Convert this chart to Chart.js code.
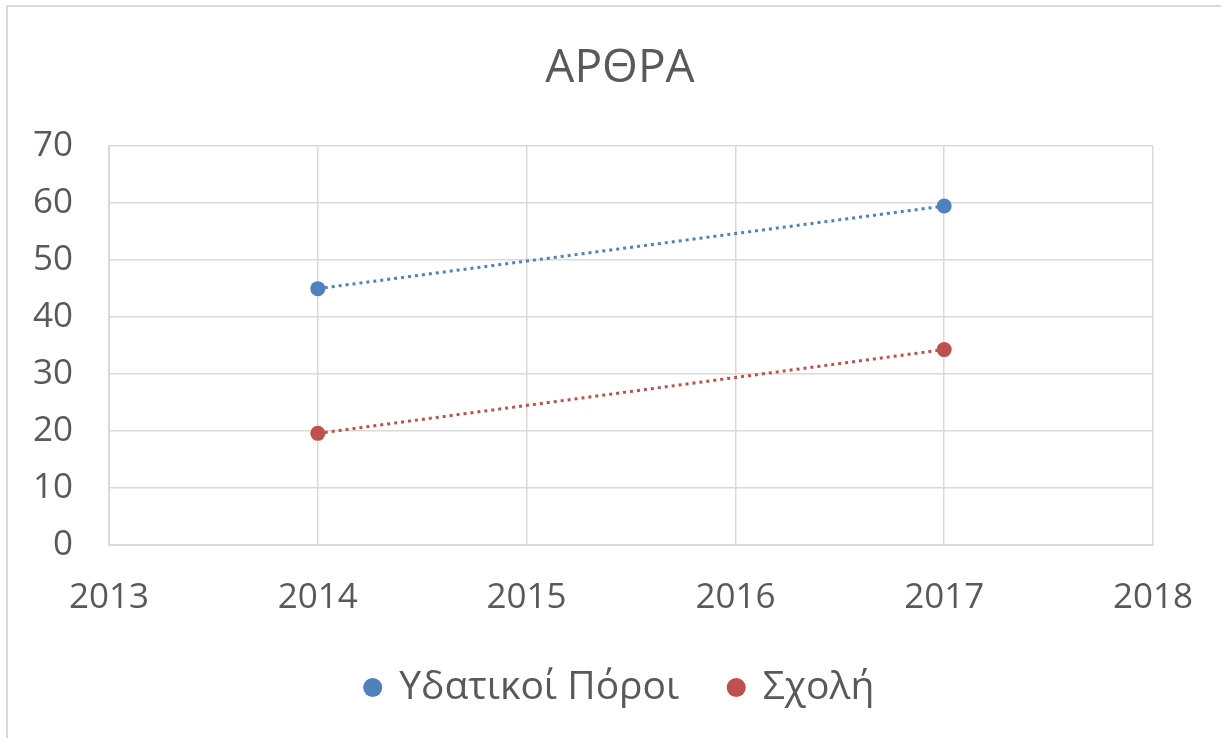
<!DOCTYPE html>
<html>
<head>
<meta charset="utf-8">
<script src="https://cdn.jsdelivr.net/npm/chart.js@4/dist/chart.umd.min.js"></script>
<style>
  body { margin: 0; background: #fff; overflow: hidden; }
  #frame { position: absolute; left: 6px; top: 5px; width: 1300px; height: 900px; border: 2px solid #d9d9d9; }
  #wrap { position: absolute; left: 0; top: 0; width: 1221px; height: 738px; }
</style>
</head>
<body>
<div id="frame"></div>
<div id="wrap"><canvas id="arthra__chart"></canvas></div>
<script>
// Scatter chart "ΑΡΘΡΑ", Excel style, dotted lines between the two years

const years = [2014, 2017];
const waterResources = [45, 59.5];   // Υδατικοί Πόροι
const school = [19.6, 34.3];         // Σχολή
const xTicks = [2013, 2014, 2015, 2016, 2017, 2018];
const yTicks = [0, 10, 20, 30, 40, 50, 60, 70];

const textColor = '#595959';
const gridColor = '#d9d9d9';
const fontFamily = '"Open Sans", "Noto Sans", sans-serif';

const toPoints = (xs, ys) => xs.map((x, i) => ({ x: x, y: ys[i] }));

const data = {
  datasets: [{
    label: 'Υδατικοί Πόροι',
    data: toPoints(years, waterResources),
    backgroundColor: '#4F81BD',
    borderColor: '#4F81BD',
    showLine: true,
    borderWidth: 3,
    borderDash: [3, 4],
    pointRadius: 7.5,
    pointHoverRadius: 7.5,
    pointBorderWidth: 0
  }, {
    label: 'Σχολή',
    data: toPoints(years, school),
    backgroundColor: '#C0504D',
    borderColor: '#C0504D',
    showLine: true,
    borderWidth: 3,
    borderDash: [3, 4],
    pointRadius: 7.5,
    pointHoverRadius: 7.5,
    pointBorderWidth: 0
  }]
};

const config = {
  type: 'scatter',
  data,
  options: {
    responsive: true,
    maintainAspectRatio: false,
    animation: false,
    layout: { padding: { left: 19, right: 0, top: 0, bottom: 21 } },
    plugins: {
      title: {
        display: true,
        text: 'ΑΡΘΡΑ',
        color: textColor,
        font: { family: fontFamily, size: 46, weight: 'normal' },
        padding: { top: 41, bottom: 50 }
      },
      legend: {
        position: 'bottom',
        labels: {
          color: textColor,
          usePointStyle: true,
          pointStyle: 'circle',
          boxWidth: 14,
          boxHeight: 13.5,
          padding: 50,
          font: { family: fontFamily, size: 39 }
        }
      },
      tooltip: { enabled: false }
    },
    scales: {
      x: {
        type: 'linear',
        min: xTicks[0],
        max: xTicks[xTicks.length - 1],
        afterBuildTicks: s => { s.ticks = xTicks.map(v => ({ value: v })); },
        // fixed height, and keep 68px free to the right of the plot
        afterFit: s => { s.height = 73; s.paddingLeft = 0; s.paddingRight = 68; },
        ticks: {
          color: textColor,
          padding: 32,
          font: { family: fontFamily, size: 35 },
          callback: v => String(v)
        },
        grid: { color: gridColor, lineWidth: 1.5, drawTicks: false },
        border: { color: gridColor, width: 2 }
      },
      y: {
        min: yTicks[0],
        max: yTicks[yTicks.length - 1],
        afterBuildTicks: s => { s.ticks = yTicks.map(v => ({ value: v })); },
        afterFit: s => { s.width = 90; },
        ticks: {
          color: textColor,
          padding: 36,
          font: { family: fontFamily, size: 35 }
        },
        grid: { color: gridColor, lineWidth: 1.5, drawTicks: false },
        border: { color: gridColor, width: 2 }
      }
    }
  }
};

var arthra = new Chart(document.getElementById('arthra__chart'), config);
</script>
</body>
</html>
